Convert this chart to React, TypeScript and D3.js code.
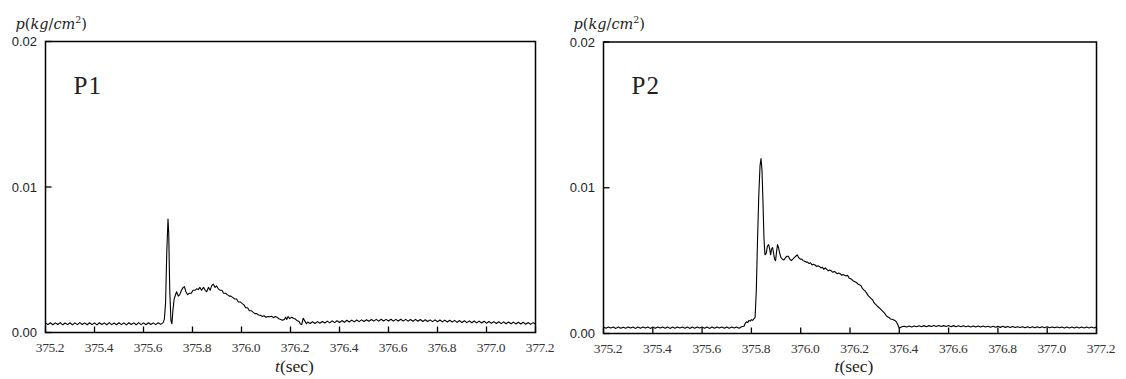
import React from "react";
import * as d3 from "d3";

// ---- data (t in sec, p in kg/cm^2) ----
const P1_T: number[] = [
  375.2, 375.21, 375.22, 375.23, 375.24, 375.25, 375.26, 375.27, 375.28, 375.29,
  375.3, 375.31, 375.32, 375.33, 375.34, 375.35, 375.36, 375.37, 375.38, 375.39,
  375.4, 375.41, 375.42, 375.43, 375.44, 375.45, 375.46, 375.47, 375.48, 375.49,
  375.5, 375.51, 375.52, 375.53, 375.54, 375.55, 375.56, 375.57, 375.58, 375.59,
  375.6, 375.61, 375.62, 375.63, 375.64, 375.65, 375.66, 375.67, 375.68,
  375.685, 375.69, 375.695, 375.7, 375.703, 375.707, 375.712, 375.716, 375.72, 375.725,
  375.735, 375.742, 375.748, 375.755, 375.762, 375.767, 375.773, 375.78, 375.787, 375.795,
  375.802, 375.81, 375.817, 375.824, 375.83, 375.837, 375.845, 375.852, 375.858, 375.865,
  375.872, 375.878, 375.885, 375.892, 375.898, 375.906, 375.913, 375.92, 375.927, 375.935,
  375.942, 375.95, 375.957, 375.965, 375.973, 375.98, 375.987, 375.995, 376.002, 376.01,
  376.017, 376.025, 376.032, 376.04, 376.047, 376.055, 376.062, 376.07, 376.078, 376.085,
  376.092, 376.1, 376.108, 376.115, 376.123, 376.13, 376.138, 376.145, 376.152, 376.16,
  376.167, 376.175, 376.18, 376.185, 376.19, 376.197, 376.205, 376.212, 376.22, 376.228,
  376.235, 376.24, 376.246, 376.252, 376.258, 376.265, 376.27,
  376.28, 376.29, 376.3, 376.31, 376.32, 376.33, 376.34, 376.35, 376.36, 376.37,
  376.38, 376.39, 376.4, 376.41, 376.42, 376.43, 376.44, 376.45, 376.46, 376.47,
  376.48, 376.49, 376.5, 376.51, 376.52, 376.53, 376.54, 376.55, 376.56, 376.57,
  376.58, 376.59, 376.6, 376.61, 376.62, 376.63, 376.64, 376.65, 376.66, 376.67,
  376.68, 376.69, 376.7, 376.71, 376.72, 376.73, 376.74, 376.75, 376.76, 376.77,
  376.78, 376.79, 376.8, 376.81, 376.82, 376.83, 376.84, 376.85, 376.86, 376.87,
  376.88, 376.89, 376.9, 376.91, 376.92, 376.93, 376.94, 376.95, 376.96, 376.97,
  376.98, 376.99, 377.0, 377.01, 377.02, 377.03, 377.04, 377.05, 377.06, 377.07,
  377.08, 377.09, 377.1, 377.11, 377.12, 377.13, 377.14, 377.15, 377.16, 377.17,
  377.18, 377.19, 377.2,
];
const P1_P: number[] = [
  0.00066, 0.00054, 0.00067, 0.00053, 0.00066, 0.00055, 0.00068, 0.00053, 0.00065, 0.00054,
  0.00067, 0.00052, 0.00066, 0.00054, 0.00068, 0.00055, 0.00066, 0.00053, 0.00067, 0.00054,
  0.00066, 0.00052, 0.00067, 0.00055, 0.00066, 0.00053, 0.00068, 0.00054, 0.00065, 0.00053,
  0.00067, 0.00054, 0.00066, 0.00052, 0.00067, 0.00055, 0.00066, 0.00053, 0.00068, 0.00054,
  0.00066, 0.00053, 0.00067, 0.00055, 0.00066, 0.00054, 0.00067, 0.00056, 0.00068,
  0.0009, 0.002, 0.0055, 0.0078, 0.0068, 0.003, 0.0008, 0.0006, 0.0015, 0.0023,
  0.0028, 0.0025, 0.0026, 0.0029, 0.0031, 0.00315, 0.0028, 0.0026, 0.0027, 0.0027,
  0.0029, 0.0029, 0.003, 0.00295, 0.0031, 0.0029, 0.0031, 0.0029, 0.0028, 0.0031,
  0.0029, 0.0032, 0.00333, 0.0031, 0.0032, 0.003, 0.0029, 0.0029, 0.0027, 0.0027,
  0.0026, 0.0025, 0.0025, 0.0024, 0.0023, 0.0023, 0.0021, 0.0021, 0.002, 0.0019,
  0.0017, 0.0017, 0.0015, 0.0015, 0.0014, 0.0013, 0.0013, 0.0012, 0.00118, 0.0011,
  0.00115, 0.00105, 0.0011, 0.00108, 0.00112, 0.00102, 0.0011, 0.00105, 0.00095, 0.0009,
  0.00085, 0.0009, 0.00105, 0.0009, 0.0011, 0.00095, 0.00105, 0.00098, 0.00092, 0.0008,
  0.00075, 0.00058, 0.00055, 0.00098, 0.0008, 0.0006, 0.00072,
  0.00062, 0.00074, 0.00062, 0.00075, 0.00064, 0.00076, 0.00065, 0.00078, 0.00066, 0.0008,
  0.00068, 0.00081, 0.00069, 0.00082, 0.0007, 0.00084, 0.00072, 0.00085, 0.00073, 0.00086,
  0.00075, 0.00087, 0.00076, 0.00088, 0.00077, 0.00089, 0.00078, 0.0009, 0.00078, 0.00091,
  0.00079, 0.0009, 0.00079, 0.00091, 0.00078, 0.0009, 0.00079, 0.00091, 0.00078, 0.0009,
  0.00078, 0.00089, 0.00077, 0.0009, 0.00077, 0.00089, 0.00076, 0.00088, 0.00076, 0.00087,
  0.00075, 0.00087, 0.00074, 0.00086, 0.00073, 0.00085, 0.00072, 0.00084, 0.00071, 0.00083,
  0.0007, 0.00082, 0.00069, 0.00081, 0.00068, 0.0008, 0.00067, 0.00079, 0.00066, 0.00078,
  0.00065, 0.00077, 0.00064, 0.00076, 0.00063, 0.00075, 0.00062, 0.00074, 0.00061, 0.00073,
  0.0006, 0.00072, 0.0006, 0.00071, 0.00059, 0.0007, 0.00058, 0.0007, 0.00057, 0.00069,
  0.00056, 0.00068, 0.00057,
];

const P2_T: number[] = [
  375.2, 375.21, 375.22, 375.23, 375.24, 375.25, 375.26, 375.27, 375.28, 375.29,
  375.3, 375.31, 375.32, 375.33, 375.34, 375.35, 375.36, 375.37, 375.38, 375.39,
  375.4, 375.41, 375.42, 375.43, 375.44, 375.45, 375.46, 375.47, 375.48, 375.49,
  375.5, 375.51, 375.52, 375.53, 375.54, 375.55, 375.56, 375.57, 375.58, 375.59,
  375.6, 375.61, 375.62, 375.63, 375.64, 375.65, 375.66, 375.67, 375.68, 375.69,
  375.7, 375.71, 375.72, 375.73, 375.74, 375.75, 375.76,
  375.77, 375.775, 375.78, 375.785, 375.79, 375.795, 375.8, 375.805, 375.81, 375.815,
  375.82, 375.825, 375.83, 375.835, 375.839, 375.843, 375.847, 375.851, 375.855, 375.86,
  375.865, 375.87, 375.874, 375.878, 375.882, 375.886, 375.89, 375.894, 375.898, 375.902,
  375.906, 375.91, 375.915, 375.92, 375.926, 375.932, 375.938, 375.944, 375.95, 375.956,
  375.962, 375.968, 375.974, 375.98, 375.986, 375.992, 375.998, 376.004, 376.01, 376.016,
  376.022, 376.028, 376.034, 376.04, 376.046, 376.052, 376.058, 376.064, 376.07, 376.076,
  376.082, 376.088, 376.094, 376.1, 376.106, 376.112, 376.118, 376.124, 376.13, 376.136,
  376.142, 376.148, 376.154, 376.16, 376.166, 376.172, 376.178, 376.184, 376.19, 376.196,
  376.202, 376.208, 376.214, 376.22, 376.226, 376.232, 376.238, 376.244, 376.25, 376.256,
  376.262, 376.268, 376.274, 376.28, 376.286, 376.292, 376.298, 376.304, 376.31, 376.316,
  376.322, 376.328, 376.334, 376.34, 376.346, 376.352, 376.358, 376.364, 376.37, 376.376,
  376.382, 376.388, 376.394, 376.4, 376.405,
  376.41, 376.42, 376.43, 376.44, 376.45, 376.46, 376.47, 376.48, 376.49, 376.5,
  376.51, 376.52, 376.53, 376.54, 376.55, 376.56, 376.57, 376.58, 376.59, 376.6,
  376.61, 376.62, 376.63, 376.64, 376.65, 376.66, 376.67, 376.68, 376.69, 376.7,
  376.71, 376.72, 376.73, 376.74, 376.75, 376.76, 376.77, 376.78, 376.79, 376.8,
  376.81, 376.82, 376.83, 376.84, 376.85, 376.86, 376.87, 376.88, 376.89, 376.9,
  376.91, 376.92, 376.93, 376.94, 376.95, 376.96, 376.97, 376.98, 376.99, 377.0,
  377.01, 377.02, 377.03, 377.04, 377.05, 377.06, 377.07, 377.08, 377.09, 377.1,
  377.11, 377.12, 377.13, 377.14, 377.15, 377.16, 377.17, 377.18, 377.19, 377.2,
];
const P2_P: number[] = [
  0.00044, 0.00036, 0.00045, 0.00037, 0.00044, 0.00035, 0.00045, 0.00036, 0.00043, 0.00036,
  0.00045, 0.00037, 0.00044, 0.00035, 0.00045, 0.00036, 0.00044, 0.00037, 0.00045, 0.00035,
  0.00044, 0.00036, 0.00045, 0.00037, 0.00044, 0.00036, 0.00045, 0.00035, 0.00044, 0.00036,
  0.00045, 0.00037, 0.00044, 0.00036, 0.00045, 0.00035, 0.00044, 0.00036, 0.00045, 0.00037,
  0.00044, 0.00036, 0.00045, 0.00035, 0.00044, 0.00036, 0.00045, 0.00037, 0.00044, 0.00036,
  0.00045, 0.00036, 0.00044, 0.00037, 0.00045, 0.00036, 0.00046,
  0.0005, 0.0007, 0.0008, 0.00075, 0.0009, 0.00085, 0.00095, 0.0009, 0.001, 0.0011,
  0.003, 0.0065, 0.0095, 0.0115, 0.012, 0.0112, 0.009, 0.0065, 0.0054, 0.0055,
  0.006, 0.0061, 0.0058, 0.0054, 0.0058, 0.0059, 0.0055, 0.0051, 0.005, 0.0056,
  0.0061, 0.0059, 0.0055, 0.0052, 0.0051, 0.00505, 0.0052, 0.0053, 0.0053, 0.0051,
  0.005, 0.0051, 0.0052, 0.0053, 0.0054, 0.0052, 0.0051, 0.0051, 0.005, 0.00495,
  0.0049, 0.0049, 0.0048, 0.00485, 0.0047, 0.00475, 0.0047, 0.0046, 0.00465, 0.0046,
  0.0045, 0.00455, 0.0044, 0.0045, 0.0044, 0.0043, 0.00435, 0.0043, 0.0042, 0.00425,
  0.0042, 0.0041, 0.00415, 0.0041, 0.004, 0.00405, 0.004, 0.00395, 0.004, 0.0038,
  0.00375, 0.0037, 0.0036, 0.00355, 0.0035, 0.0034, 0.00335, 0.0033, 0.0031, 0.003,
  0.0029, 0.00275, 0.0026, 0.0025, 0.0024, 0.0023, 0.0021, 0.002, 0.0019, 0.0018,
  0.0017, 0.0016, 0.0015, 0.0014, 0.00125, 0.00115, 0.0011, 0.001, 0.00098, 0.00095,
  0.0009, 0.0008, 0.0006, 0.00036, 0.00042,
  0.00046, 0.0005, 0.00044, 0.00051, 0.00045, 0.00052, 0.00046, 0.00053, 0.00047, 0.00054,
  0.00047, 0.00054, 0.00048, 0.00055, 0.00048, 0.00055, 0.00048, 0.00054, 0.00048, 0.00055,
  0.00047, 0.00054, 0.00047, 0.00053, 0.00046, 0.00053, 0.00046, 0.00052, 0.00045, 0.00052,
  0.00045, 0.00051, 0.00044, 0.00051, 0.00044, 0.0005, 0.00043, 0.0005, 0.00043, 0.00049,
  0.00042, 0.00049, 0.00042, 0.00048, 0.00041, 0.00048, 0.00041, 0.00047, 0.00041, 0.00047,
  0.0004, 0.00047, 0.0004, 0.00046, 0.0004, 0.00046, 0.00039, 0.00046, 0.00039, 0.00046,
  0.00039, 0.00045, 0.00039, 0.00045, 0.00039, 0.00045, 0.00038, 0.00045, 0.00038, 0.00045,
  0.00038, 0.00045, 0.00038, 0.00044, 0.00038, 0.00044, 0.00038, 0.00044, 0.00038, 0.00044,
];

const X_TICKS: number[] = [375.2, 375.4, 375.6, 375.8, 376.0, 376.2, 376.4, 376.6, 376.8, 377.0, 377.2];
const X_LABELS: string[] = ["375.2", "375.4", "375.6", "375.8", "376.0", "376.2", "376.4", "376.6", "376.8", "377.0", "377.2"];
const Y_TICKS: number[] = [0, 0.01, 0.02];
const Y_LABELS: string[] = ["0.00", "0.01", "0.02"];
const PANEL_NAMES: string[] = ["P1", "P2"];

type PanelProps = {
  t: number[];
  p: number[];
  name: string;
  left: number;
  right: number;
  top: number;
  bottom: number;
};

const SERIF = "Liberation Serif";
const SANS = "Liberation Sans";

function Panel({ t, p, name, left, right, top, bottom }: PanelProps) {
  const x = d3.scaleLinear().domain([375.2, 377.2]).range([left, right]);
  const y = d3.scaleLinear().domain([0, 0.02]).range([bottom, top]);
  const pts = t.map((tv, i) => [tv, p[i]] as [number, number]);
  const line = d3
    .line<[number, number]>()
    .x((d) => x(d[0]))
    .y((d) => y(d[1]));
  const midX = (left + right) / 2;
  return (
    <g>
      <path d={line(pts) || ""} fill="none" stroke="#000" strokeWidth={1.1} strokeLinejoin="round" />
      <rect x={left} y={top} width={right - left} height={bottom - top} fill="none" stroke="#000" strokeWidth={1.5} />
      {X_TICKS.map((v, i) => (
        <g key={"x" + i}>
          <line x1={x(v)} x2={x(v)} y1={bottom} y2={bottom - 6} stroke="#000" strokeWidth={1.3} />
          <text x={x(v) + 4.5} y={bottom + 19} textAnchor="middle" style={{ fontFamily: SERIF, fontSize: "13.5px" }} fill="#333" letterSpacing={-0.4}>
            {X_LABELS[i]}
          </text>
        </g>
      ))}
      {Y_TICKS.map((v, i) => (
        <g key={"y" + i}>
          <line x1={left} x2={left + 6} y1={y(v)} y2={y(v)} stroke="#000" strokeWidth={1.3} />
          <text x={left - 8.5} y={y(v) + 4.5} textAnchor="end" style={{ fontFamily: SANS, fontSize: "13px" }} fill="#222">
            {Y_LABELS[i]}
          </text>
        </g>
      ))}
      <text x={left - 30} y={top - 13} style={{ fontFamily: "DejaVu Serif", fontSize: "14.5px" }} fill="#222">
        <tspan fontStyle="italic">p</tspan>
        <tspan>(</tspan>
        <tspan fontStyle="italic">kg</tspan>
        <tspan>/</tspan>
        <tspan fontStyle="italic">cm</tspan>
        <tspan fontSize={9.5} dy={-6}>2</tspan>
        <tspan dy={6}>)</tspan>
      </text>
      <text x={midX + 4} y={372} textAnchor="middle" style={{ fontFamily: SERIF, fontSize: "17.5px" }} fill="#222">
        <tspan fontStyle="italic">t</tspan>
        <tspan>(sec)</tspan>
      </text>
      <text x={left + 28} y={top + 52} style={{ fontFamily: SERIF, fontSize: "25px" }} fill="#222" letterSpacing={1}>
        {name}
      </text>
    </g>
  );
}

export default function App() {
  return (
    <svg
      width={1126}
      height={379}
      style={{ position: "fixed", left: 0, top: 0, background: "#fff" }}
    >
      <rect x={0} y={0} width={1126} height={379} fill="#fff" />
      <Panel t={P1_T} p={P1_P} name={PANEL_NAMES[0]} left={45.5} right={535.5} top={41.5} bottom={332.5} />
      <Panel t={P2_T} p={P2_P} name={PANEL_NAMES[1]} left={603.5} right={1096.5} top={42} bottom={333.5} />
    </svg>
  );
}
